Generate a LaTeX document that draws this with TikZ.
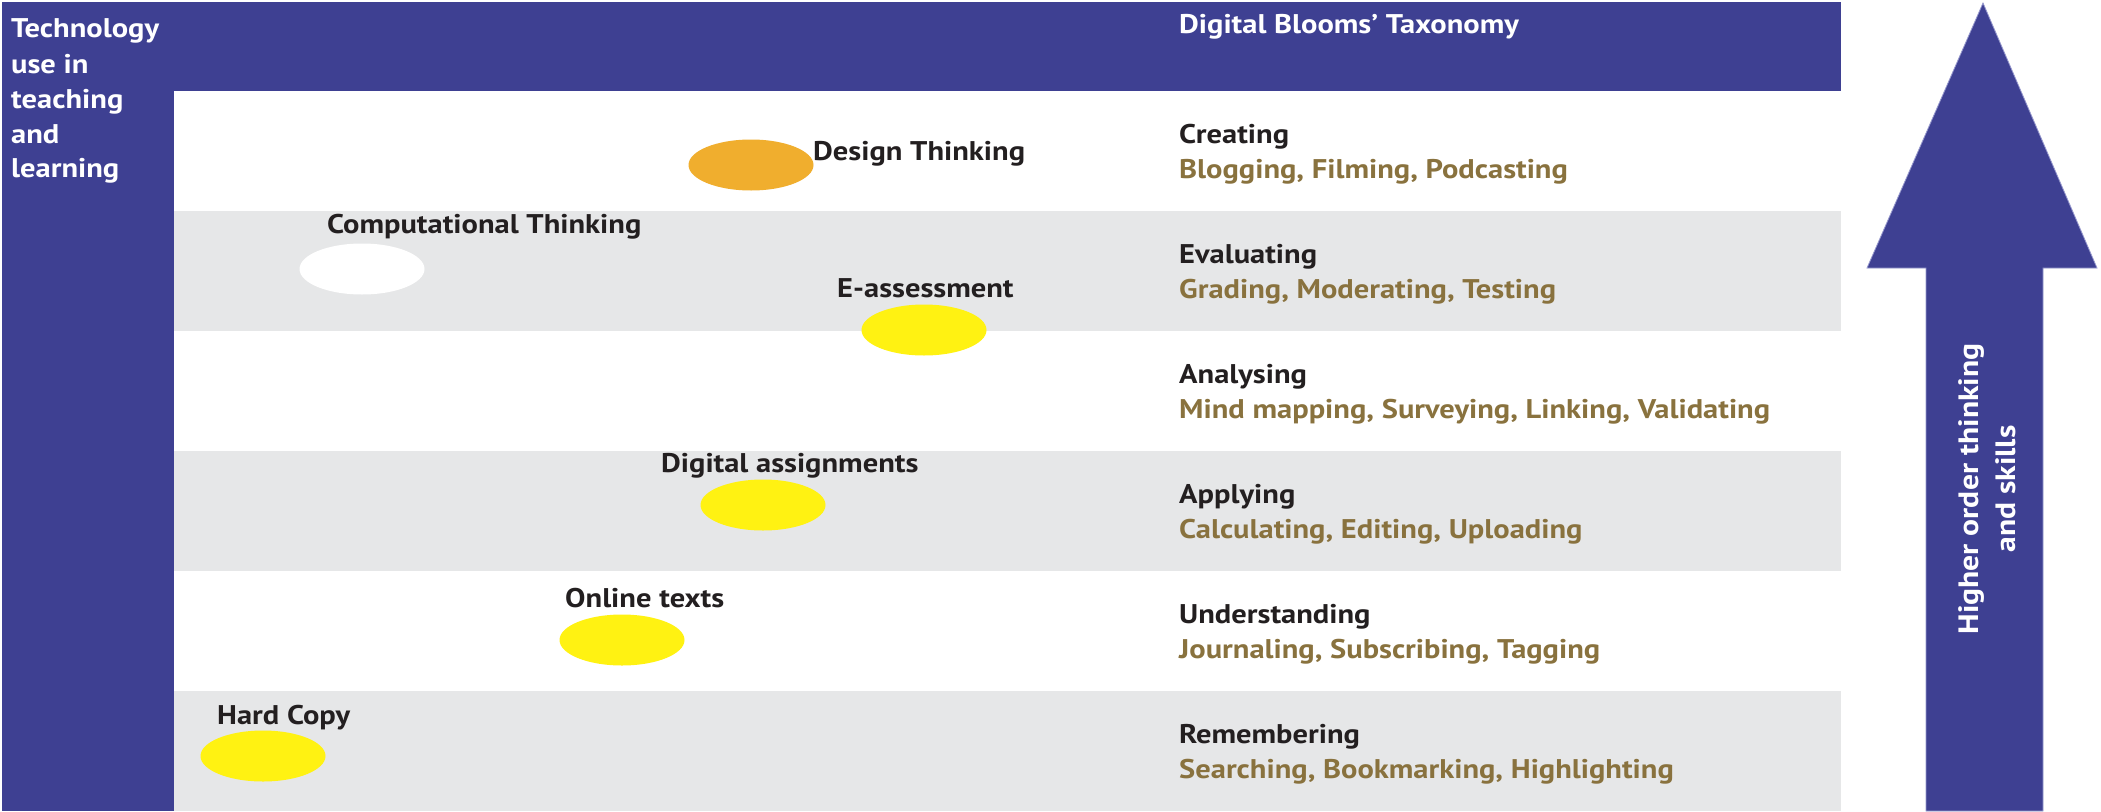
\documentclass[tikz,border=0pt]{standalone}
\usepackage{fontspec}
\setmainfont{PT Sans}[FakeStretch=1.13]
\usetikzlibrary{shapes.geometric}
\definecolor{barblue}{RGB}{62,64,146}
\definecolor{rowgray}{RGB}{230,231,232}
\definecolor{ink}{RGB}{35,31,32}
\definecolor{olive}{RGB}{137,114,62}
\definecolor{sun}{RGB}{255,242,18}
\definecolor{amber}{RGB}{240,174,46}
\begin{document}
\begin{tikzpicture}[x=1pt,y=-1pt,
  txt/.style={anchor=base west, inner sep=0pt, font=\fontsize{27}{32}\selectfont\bfseries},
  level/.style={txt, text=ink},
  verbs/.style={txt, text=olive},
  tech/.style={txt, text=ink},
  head/.style={txt, text=white},
  blob/.style={ellipse, minimum width=125pt, minimum height=51pt, inner sep=0pt, draw=none},
]
\useasboundingbox (0,0) rectangle (2101,811);
\fill[white] (0,0) rectangle (2101,811);

% alternating bands
\fill[rowgray] (174,211) rectangle (1841,331);
\fill[rowgray] (174,451) rectangle (1841,571);
\fill[rowgray] (174,691) rectangle (1841,811);

% frame bars
\fill[barblue] (2,2) rectangle (174,811);
\fill[barblue] (2,2) rectangle (1841,91);

% upward arrow
\fill[barblue, draw={rgb,255:red,150;green,152;blue,205}, line width=0.8pt]
  (1983,3) -- (2097,268) -- (2043,268) -- (2043,811) -- (1926,811) -- (1926,268) -- (1867,268) -- cycle;
\node[inner sep=0pt, rotate=90, align=center, text=white,
      font=\fontsize{28}{37}\selectfont\bfseries] (hots) at (1987,489)
  {Higher order thinking\\and skills};

% left heading
\node[head] (t1) at (11,37) {Technology};
\node[head] (t2) at (11,73) {use in};
\node[head] (t3) at (11,108) {teaching};
\node[head] (t4) at (11,143) {and};
\node[head] (t5) at (11,177) {learning};

% taxonomy heading
\node[head] (dbt) at (1179,33) {Digital Blooms’ Taxonomy};

% taxonomy levels
\node[level] (creating) at (1179,143) {Creating};
\node[verbs] (creatingv) at (1179,178) {Blogging, Filming, Podcasting};
\node[level] (evaluating) at (1179,263) {Evaluating};
\node[verbs] (evaluatingv) at (1179,298) {Grading, Moderating, Testing};
\node[level] (analysing) at (1179,383) {Analysing};
\node[verbs] (analysingv) at (1179,418) {Mind mapping, Surveying, Linking, Validating};
\node[level] (applying) at (1179,503) {Applying};
\node[verbs] (applyingv) at (1179,538) {Calculating, Editing, Uploading};
\node[level] (understanding) at (1179,623) {Understanding};
\node[verbs] (understandingv) at (1179,658) {Journaling, Subscribing, Tagging};
\node[level] (remembering) at (1179,743) {Remembering};
\node[verbs] (rememberingv) at (1179,778) {Searching, Bookmarking, Highlighting};

% technology markers
\node[blob, fill=amber] (design) at (751,165) {};
\node[tech] (designl) at (813,160) {Design Thinking};
\node[blob, fill=white] (comp) at (362,269) {};
\node[tech] (compl) at (327,233) {Computational Thinking};
\node[blob, fill=sun] (eass) at (924,330) {};
\node[tech] (eassl) at (837,297) {E-assessment};
\node[blob, fill=sun] (assign) at (763,505) {};
\node[tech] (assignl) at (661,472) {Digital assignments};
\node[blob, fill=sun] (online) at (622,640) {};
\node[tech] (onlinel) at (565,607) {Online texts};
\node[blob, fill=sun] (hard) at (263,756) {};
\node[tech] (hardl) at (217,724) {Hard Copy};
\end{tikzpicture}
\end{document}
